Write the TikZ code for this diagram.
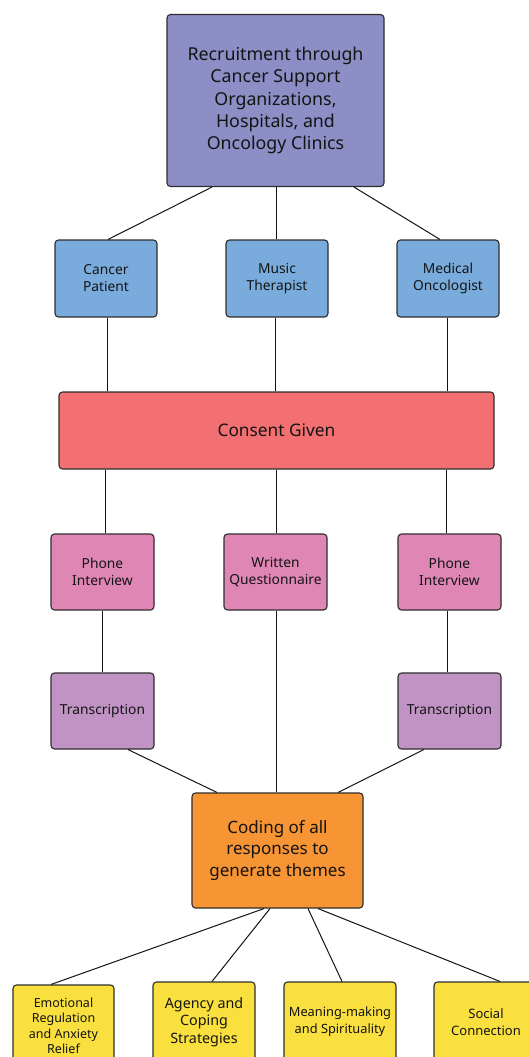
\documentclass[tikz,border=0pt]{standalone}
\usepackage{fontspec}
\setmainfont{Noto Sans}
\usetikzlibrary{calc}
\definecolor{cTop}{HTML}{8E8EC7}
\definecolor{cBlue}{HTML}{79ACDC}
\definecolor{cRed}{HTML}{F27071}
\definecolor{cPink}{HTML}{E086B5}
\definecolor{cLil}{HTML}{C193C5}
\definecolor{cOrg}{HTML}{F79433}
\definecolor{cYel}{HTML}{F9E03E}
\definecolor{cEdge}{HTML}{2E2E2E}
\definecolor{cTxt}{HTML}{141414}
\tikzset{
  box/.style={draw=cEdge, line width=1.1pt, rounded corners=3.5pt, align=center, inner sep=0pt, text=cTxt},
  link/.style={draw=cTxt, line width=1pt},
  smalltxt/.style={font=\fontsize{13.8}{17}\selectfont},
}
\begin{document}
\begin{tikzpicture}[x=1pt,y=-1pt]
\useasboundingbox (0,0) rectangle (528,1057);
\fill[white] (0,0) rectangle (528,1057);
% top
\node[box, font=\fontsize{17.8}{22.4}\selectfont, fill=cTop, minimum width=217, minimum height=172] (top) at (275.5,100.5) {Recruitment through\\Cancer Support\\Organizations,\\Hospitals, and\\Oncology Clinics};
% roles
\node[box, smalltxt, fill=cBlue, minimum width=102, minimum height=77] (cp) at (106,278.5) {Cancer\\Patient};
\node[box, smalltxt, fill=cBlue, minimum width=102, minimum height=77] (mt) at (277,278.5) {Music\\Therapist};
\node[box, smalltxt, fill=cBlue, minimum width=102, minimum height=77] (mo) at (448,278.5) {Medical\\Oncologist};
% consent
\node[box, font=\fontsize{17.3}{21}\selectfont, fill=cRed, minimum width=435, minimum height=77] (cons) at (276.5,430.5) {Consent Given};
% methods
\node[box, smalltxt, fill=cPink, minimum width=103, minimum height=76] (pi1) at (102.5,572) {Phone\\Interview};
\node[box, smalltxt, fill=cPink, minimum width=103, minimum height=76] (wq) at (275.5,572) {Written\\Questionnaire};
\node[box, smalltxt, fill=cPink, minimum width=103, minimum height=76] (pi2) at (449.5,572) {Phone\\Interview};
% transcription
\node[box, smalltxt, fill=cLil, minimum width=103, minimum height=76] (tr1) at (102.5,711) {Transcription};
\node[box, smalltxt, fill=cLil, minimum width=103, minimum height=76] (tr2) at (449.5,711) {Transcription};
% coding
\node[box, font=\fontsize{17}{21.5}\selectfont, fill=cOrg, minimum width=171, minimum height=115] (cod) at (277.5,850.5) {Coding of all\\responses to\\generate themes};
% themes
\node[box, fill=cYel, minimum width=101, minimum height=82, font=\fontsize{12.5}{15.5}\selectfont] (th1) at (63.5,1026) {Emotional\\Regulation\\and Anxiety\\Relief};
\node[box, fill=cYel, minimum width=102, minimum height=80, font=\fontsize{14.3}{17.5}\selectfont] (th2) at (204,1022) {Agency and\\Coping\\Strategies};
\node[box, fill=cYel, minimum width=112, minimum height=80, font=\fontsize{12.8}{17}\selectfont] (th3) at (340,1022) {Meaning-making\\and Spirituality};
\node[box, fill=cYel, minimum width=104, minimum height=80, font=\fontsize{13}{16.5}\selectfont] (th4) at (486,1022) {Social\\Connection};
% connectors
\draw[link] ([xshift=-63.5]top.south) -- ([xshift=2]cp.north);
\draw[link] ([xshift=0.5]top.south) -- ([xshift=-1]mt.north);
\draw[link] ([xshift=78.5]top.south) -- ([xshift=-8]mo.north);
\draw[link] ([xshift=1]cp.south) -- ([xshift=1]cp.south |- cons.north);
\draw[link] ([xshift=-2]mt.south) -- ([xshift=-2]mt.south |- cons.north);
\draw[link] ([xshift=-1]mo.south) -- ([xshift=-1]mo.south |- cons.north);
\draw[link] ([xshift=2.5]pi1.north) -- ([xshift=2.5]pi1.north |- cons.south);
\draw[link] ([xshift=0.5]wq.north) -- ([xshift=0.5]wq.north |- cons.south);
\draw[link] ([xshift=-3.5]pi2.north) -- ([xshift=-3.5]pi2.north |- cons.south);
\draw[link] (pi1.south) -- (tr1.north);
\draw[link] ([xshift=-2.5]pi2.south) -- ([xshift=-2.5]tr2.north);
\draw[link] ([xshift=0.5]wq.south) -- ([xshift=-1.5]cod.north);
\draw[link] ([xshift=25.5]tr1.south) -- ([xshift=-60.5]cod.north);
\draw[link] ([xshift=-25.5]tr2.south) -- ([xshift=60.5]cod.north);
\draw[link] ([xshift=-13.5]cod.south) -- ([xshift=-12.5]th1.north);
\draw[link] ([xshift=-7.5]cod.south) -- ([xshift=8]th2.north);
\draw[link] ([xshift=30.5]cod.south) -- ([xshift=2]th3.north);
\draw[link] ([xshift=40.5]cod.south) -- ([xshift=14]th4.north);
\end{tikzpicture}
\end{document}
